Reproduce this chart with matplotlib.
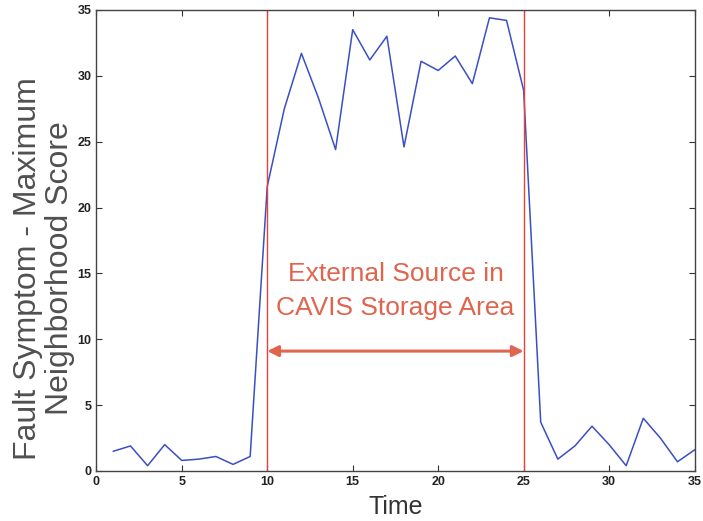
import matplotlib.pyplot as plt

plt.rcParams['font.family'] = ['Liberation Sans', 'DejaVu Sans']

time = list(range(1, 36))
score = [1.5, 1.9, 0.4, 2.0, 0.8, 0.9, 1.1, 0.5, 1.1, 21.6,
         27.5, 31.7, 28.3, 24.4, 33.5, 31.2, 33.0, 24.6, 31.1, 30.4,
         31.5, 29.4, 34.4, 34.2, 28.9, 3.7, 0.9, 1.9, 3.4, 2.0,
         0.4, 4.0, 2.5, 0.7, 1.6]
event_start = 10
event_end = 25
label_text = 'External Source in\nCAVIS Storage Area'

annot_color = '#e0654f'

fig = plt.figure(figsize=(7.03, 5.21), dpi=100)
ax = fig.add_axes([0.137, 0.096, 0.851, 0.885])

ax.plot(time, score, color='#3a4fc4', linewidth=1.1)
ax.axvline(event_start, color='#e8403a', linewidth=1.0)
ax.axvline(event_end, color='#e8403a', linewidth=1.0)

ax.annotate('', xy=(event_start, 9.1), xytext=(event_end, 9.1),
            arrowprops=dict(arrowstyle='<|-|>', color=annot_color,
                            lw=2.2, mutation_scale=16,
                            shrinkA=0, shrinkB=0))
ax.text(17.5, 13.65, label_text, color=annot_color, fontsize=19,
        ha='center', va='center', linespacing=1.55)

ax.set_xlim(0, 35)
ax.set_ylim(0, 35)
ax.set_xticks(range(0, 36, 5))
ax.set_yticks(range(0, 36, 5))
ax.tick_params(direction='in', top=True, right=True, length=4,
               labelsize=9, colors='#333333', labelcolor='#222222')
for lbl in ax.get_xticklabels() + ax.get_yticklabels():
    lbl.set_fontweight('bold')
for sp in ax.spines.values():
    sp.set_color('#444444')
    sp.set_linewidth(1.0)

ax.set_xlabel('Time', fontsize=18, color='#333333', labelpad=5)
ax.set_ylabel('Fault Symptom - Maximum\nNeighborhood Score', fontsize=23,
              color='#505050', linespacing=1.1)
ax.yaxis.set_label_coords(-0.035, 0.44)

fig.savefig('out.png', dpi=100)
